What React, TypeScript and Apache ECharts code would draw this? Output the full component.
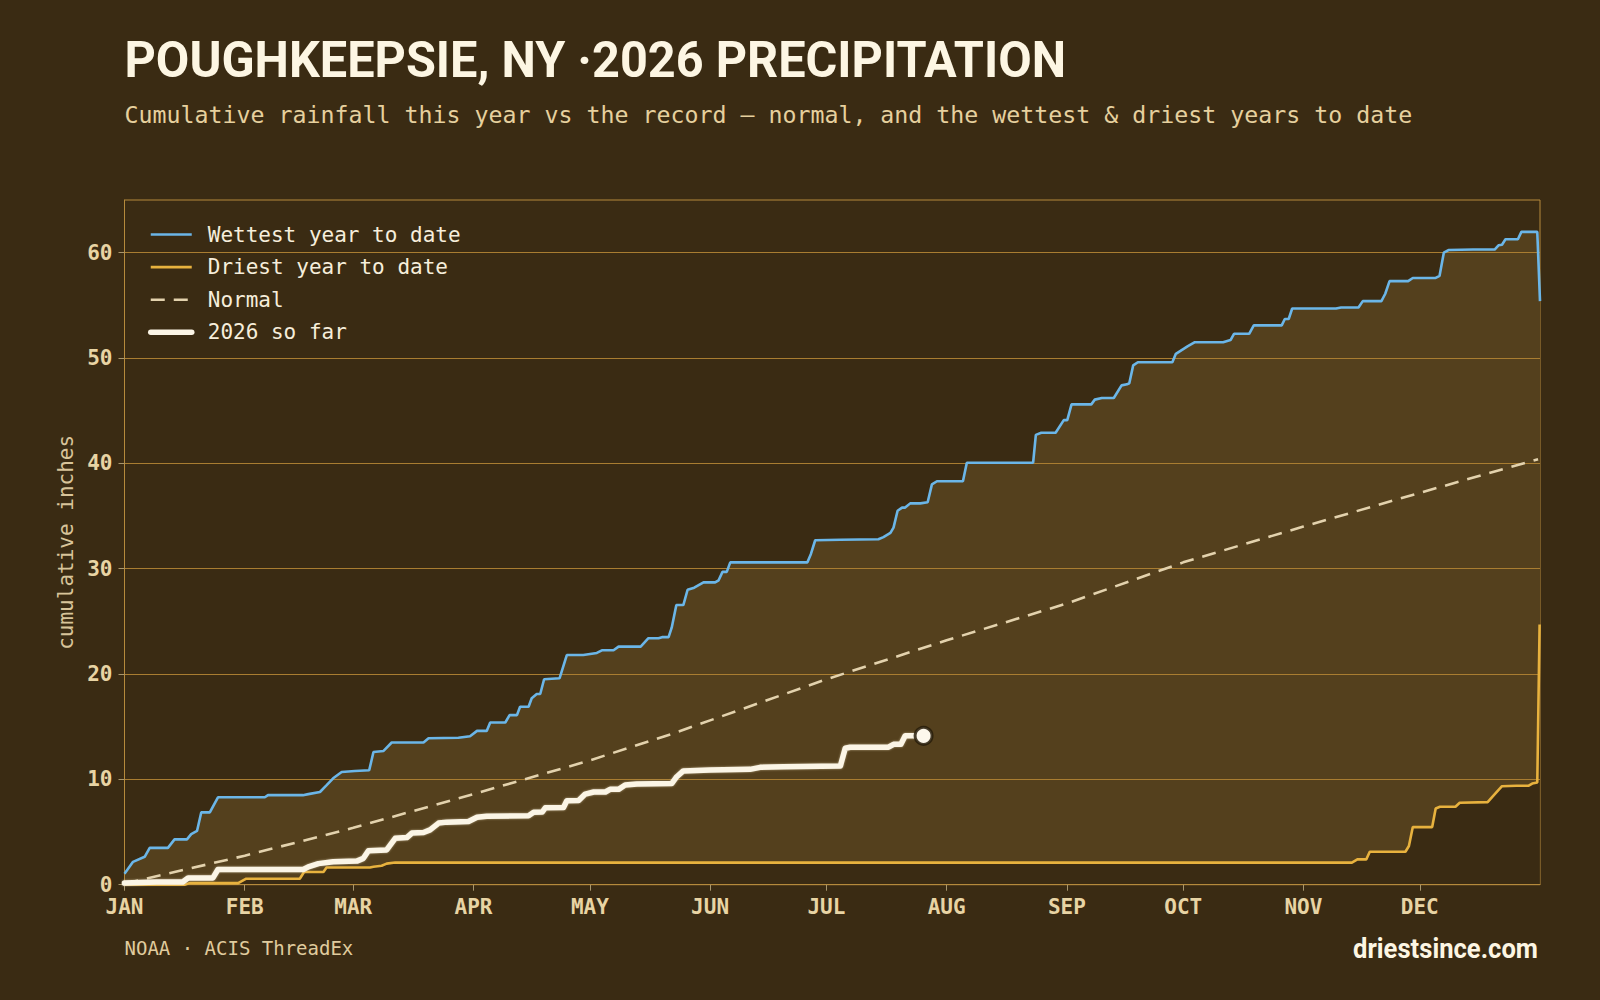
import React, { useEffect, useRef } from "react";
import * as echarts from "echarts";

// ---- data (day of year, cumulative inches) ----
const MONTH_STARTS = [0, 31, 59, 90, 120, 151, 181, 212, 243, 273, 304, 334];
const MONTH_LABELS = ["JAN", "FEB", "MAR", "APR", "MAY", "JUN", "JUL", "AUG", "SEP", "OCT", "NOV", "DEC"];
const Y_TICKS = [0, 10, 20, 30, 40, 50, 60];

const WETTEST: [number, number][] = [
  [0, 1.05], [2.2, 2.17], [5.2, 2.65], [6.5, 3.5], [11.2, 3.5], [12.9, 4.3], [16.1, 4.3], [17.2, 4.8],
  [18.7, 5.1], [19.8, 6.87], [22, 6.87], [24.1, 8.3], [36.2, 8.3], [37, 8.5], [46, 8.5], [47.4, 8.6],
  [50.4, 8.8], [52, 9.4], [53.8, 10.1], [56, 10.7], [59.4, 10.8], [63.1, 10.86], [64.2, 12.6], [66.8, 12.7],
  [68.9, 13.5], [77.1, 13.5], [78.4, 13.9], [86.1, 13.95], [89.1, 14.1], [90.9, 14.6], [93.4, 14.6],
  [94.3, 15.4], [98.2, 15.4], [99.3, 16.1], [101.2, 16.1], [102, 16.9], [104.2, 16.9], [105, 17.7],
  [106.3, 18.1], [107.2, 18.1], [108.2, 19.5], [112.2, 19.6], [114.05, 21.8], [118.3, 21.8], [121.8, 22.0],
  [123.1, 22.25], [126.1, 22.25], [127.4, 22.6], [133.1, 22.6], [135.1, 23.4], [137.7, 23.4], [138.6, 23.5],
  [140.3, 23.5], [141.1, 24.4], [142.3, 26.55], [144.1, 26.55], [145.2, 28.0], [146.9, 28.2], [149.3, 28.7],
  [152.3, 28.7], [153.2, 28.9], [154.2, 29.7], [155.3, 29.7], [156.2, 30.6], [176.1, 30.6], [177, 31.4],
  [178.1, 32.7], [184.6, 32.75], [194.4, 32.8], [195.7, 33.0], [197.5, 33.4], [198.3, 33.9], [199.35, 35.5],
  [200.5, 35.8], [201.3, 35.8], [202.6, 36.2], [205.2, 36.2], [207.1, 36.3], [208.2, 38.0], [209.5, 38.3],
  [216.2, 38.3], [217.2, 40.06], [234.3, 40.06], [235.0, 42.7], [236.4, 42.9], [240.1, 42.9], [242.2, 44.1],
  [243.1, 44.1], [244.2, 45.6], [249.3, 45.6], [250.2, 46.05], [252.0, 46.2], [255.1, 46.2], [257.1, 47.4],
  [258.5, 47.5], [259.1, 47.6], [260.1, 49.3], [261.3, 49.6], [270.2, 49.6], [271.1, 50.4], [274.1, 51.1],
  [276.0, 51.5], [283.3, 51.5], [285.2, 51.7], [286.1, 52.3], [290.0, 52.3], [291.2, 53.1], [298.4, 53.1],
  [299.2, 53.7], [300.2, 53.7], [301.1, 54.7], [312.4, 54.7], [313.7, 54.8], [318.2, 54.8], [319.3, 55.4],
  [324.1, 55.4], [325.1, 56.1], [326.2, 57.3], [331.0, 57.3], [332.2, 57.6], [338.1, 57.6], [339.1, 57.8],
  [340.2, 60.0], [341.4, 60.25], [347.8, 60.3], [353.3, 60.3], [354.3, 60.7], [355.2, 60.75], [356.1, 61.27],
  [359.3, 61.27], [360.2, 61.97], [364.3, 61.97], [365, 55.4],
];

const DRIEST: [number, number][] = [
  [0, 0], [15.5, 0], [16.8, 0.15], [29.3, 0.15], [31.4, 0.57], [45.2, 0.57], [46.3, 1.2], [51.3, 1.2],
  [52.1, 1.63], [63.3, 1.63], [64.2, 1.7], [66.3, 1.8], [67.6, 2.0], [69.8, 2.1], [316.5, 2.1], [317.9, 2.4],
  [320.2, 2.4], [321.1, 3.13], [330.3, 3.13], [331.2, 3.67], [332.2, 5.47], [337.2, 5.47], [338.1, 7.24],
  [339.2, 7.4], [343.2, 7.4], [344.3, 7.78], [351.5, 7.84], [352.7, 8.34], [355.2, 9.35], [358.9, 9.4],
  [362.1, 9.4], [363.0, 9.6], [364.3, 9.7], [364.9, 24.7],
];

const NORMAL: [number, number][] = [
  [0, 0.1], [31, 2.75], [59, 5.4], [90, 8.6], [105, 10.2], [120, 11.8], [141, 14.3], [151, 15.6],
  [181, 19.5], [212, 23.2], [243, 26.7], [273, 30.6], [304, 34.0], [334, 37.2], [364.5, 40.4],
];

const Y2026: [number, number][] = [
  [0, 0.15], [8.2, 0.25], [15, 0.25], [16.4, 0.64], [22.8, 0.64], [24.1, 1.44], [46.1, 1.44], [47.4, 1.7],
  [50, 2.0], [53.8, 2.17], [59.9, 2.24], [61.6, 2.5], [62.9, 3.23], [67.6, 3.3], [69.8, 4.4], [72.8, 4.47],
  [74.1, 4.9], [77.1, 4.95], [78.8, 5.2], [81, 5.85], [83.1, 5.94], [88.7, 6.0], [90.9, 6.4], [93.4, 6.5],
  [104.2, 6.55], [105.5, 6.87], [107.7, 6.9], [108.5, 7.3], [113.2, 7.33], [114.05, 7.97], [117.1, 8.0],
  [118.8, 8.6], [121.0, 8.8], [124, 8.8], [125.2, 9.05], [127.4, 9.05], [129.1, 9.46], [132.1, 9.55],
  [141.1, 9.6], [142.4, 10.25], [144.1, 10.8], [151, 10.9], [161.3, 10.95], [163.9, 11.14], [169.9, 11.2],
  [184.6, 11.27], [185.85, 12.95], [187.1, 13.05], [197.0, 13.05], [198.3, 13.33], [200.2, 13.33],
  [201.3, 14.13], [206.05, 14.13],
];

const TITLE = "POUGHKEEPSIE, NY ·2026 PRECIPITATION";
const SUBTITLE = "Cumulative rainfall this year vs the record — normal, and the wettest & driest years to date";
const SOURCE = "NOAA · ACIS ThreadEx";
const SITE = "driestsince.com";

const BG = "#3a2b13";
const BAND = "#54401d";
const GOLD = "#a97d31";
const BORDER = "#b58a3c";
const LABEL = "#e8d4a4";
const MONO = "'DejaVu Sans Mono', monospace";

function measure(font: string, text: string): number {
  const c = document.createElement("canvas").getContext("2d");
  if (!c) return 0;
  c.font = font;
  return c.measureText(text).width;
}

export default function App() {
  const ref = useRef<HTMLDivElement>(null);

  useEffect(() => {
    document.body.style.margin = "0";
    document.body.style.background = BG;
    if (!ref.current) return;
    const chart = echarts.init(ref.current, null, { renderer: "svg", width: 1600, height: 1000 });

    const titleFont = "bold 50px Roboto";
    const tw = measure(titleFont, TITLE) || 942;
    const titleScale = 942 / tw;
    const siteFont = "bold 27px Roboto";
    const sw = measure(siteFont, SITE) || 185;
    const siteScale = 185 / sw;

    const option: any = {
      animation: false,
      backgroundColor: BG,
      grid: {
        left: 124.5,
        right: 60,
        top: 200,
        bottom: 115.3,
        show: true,
        backgroundColor: BG,
        borderColor: BORDER,
        borderWidth: 1,
        containLabel: false,
        outerBoundsMode: "none",
      },
      legend: {
        orient: "vertical",
        left: 143,
        top: 219,
        itemWidth: 41,
        itemHeight: 14,
        itemGap: 11.6,
        data: ["Wettest year to date", "Driest year to date", "Normal", "2026 so far"],
        itemStyle: { opacity: 0 },
        lineStyle: { width: "inherit" },
        textStyle: { fontFamily: MONO, fontSize: 21, color: "#f6eedb", padding: [0, 0, 0, 11] },
        selectedMode: false,
      },
      xAxis: {
        type: "value",
        min: 0,
        max: 365,
        z: 2,
        splitLine: { show: false },
        axisLine: { show: true, lineStyle: { color: BORDER, width: 1 } },
        axisTick: { show: true, customValues: MONTH_STARTS, length: 6, lineStyle: { color: "#a8966c" } },
        axisLabel: {
          customValues: MONTH_STARTS,
          formatter: (v: number) => {
            const i = MONTH_STARTS.indexOf(Math.round(v));
            return i >= 0 ? MONTH_LABELS[i] : "";
          },
          fontFamily: MONO,
          fontWeight: "bold",
          fontSize: 21,
          color: LABEL,
          margin: 12,
        },
      },
      yAxis: {
        type: "value",
        min: 0,
        max: 65,
        interval: 10,
        z: 2,
        name: "cumulative inches",
        nameLocation: "middle",
        nameGap: 47,
        nameTextStyle: { fontFamily: MONO, fontSize: 21, color: "#d8c49a" },
        splitLine: { show: true, lineStyle: { color: GOLD, width: 1 } },
        axisLine: { show: true, lineStyle: { color: BORDER, width: 1 } },
        axisTick: { show: true, customValues: Y_TICKS, length: 6, lineStyle: { color: "#a8966c" } },
        axisLabel: {
          customValues: Y_TICKS,
          fontFamily: MONO,
          fontWeight: "bold",
          fontSize: 21,
          color: LABEL,
          margin: 12,
        },
      },
      graphic: [
        {
          type: "text",
          x: 124.5,
          y: 60,
          scaleX: titleScale,
          style: { text: TITLE, fill: "#fdf6e3", font: titleFont, align: "left", verticalAlign: "middle" },
        },
        {
          type: "text",
          x: 124.5,
          y: 114,
          style: { text: SUBTITLE, fill: "#e6d09e", fontFamily: MONO, fontSize: 23.25, align: "left", verticalAlign: "middle" },
        },
        {
          type: "text",
          x: 124.5,
          y: 948,
          style: { text: SOURCE, fill: "#e0cc9e", fontFamily: MONO, fontSize: 19, align: "left", verticalAlign: "middle" },
        },
        {
          type: "text",
          x: 1538,
          y: 949,
          scaleX: siteScale,
          style: { text: SITE, fill: "#fdf6e3", font: siteFont, align: "right", verticalAlign: "middle" },
        },
      ],
      series: [
        {
          name: "wet-fill",
          type: "line",
          data: WETTEST,
          symbol: "none",
          z: 1,
          silent: true,
          lineStyle: { width: 0, opacity: 0 },
          areaStyle: { color: BAND, opacity: 1 },
        },
        {
          name: "dry-fill",
          type: "line",
          data: DRIEST,
          symbol: "none",
          z: 1,
          silent: true,
          lineStyle: { width: 0, opacity: 0 },
          areaStyle: { color: BG, opacity: 1 },
        },
        {
          name: "Wettest year to date",
          type: "line",
          data: WETTEST,
          symbol: "none",
          z: 3,
          color: "#6bb6e8",
          lineStyle: { color: "#6bb6e8", width: 2.6 },
        },
        {
          name: "Driest year to date",
          type: "line",
          data: DRIEST,
          symbol: "none",
          z: 3,
          color: "#e8b23e",
          lineStyle: { color: "#e8b23e", width: 2.6 },
        },
        {
          name: "Normal",
          type: "line",
          data: NORMAL,
          symbol: "none",
          z: 3,
          color: "#e3d2ad",
          lineStyle: { color: "#e3d2ad", width: 2.6, type: [14, 9] },
        },
        {
          name: "2026 so far",
          type: "line",
          data: Y2026,
          symbol: "none",
          z: 4,
          color: "#fbf5e6",
          lineStyle: { color: "#fbf5e6", width: 5.5, cap: "round", join: "round", shadowColor: "rgba(230,215,180,0.6)", shadowBlur: 2 },
        },
        {
          name: "2026 latest",
          type: "scatter",
          data: [Y2026[Y2026.length - 1]],
          symbol: "circle",
          symbolSize: 17,
          z: 5,
          silent: true,
          itemStyle: { color: "#fdf8ec", opacity: 1, borderColor: "rgba(40,29,10,0.85)", borderWidth: 3 },
        },
      ],
    };

    chart.setOption(option);
    return () => chart.dispose();
  }, []);

  return <div ref={ref} style={{ width: 1600, height: 1000 }} />;
}
